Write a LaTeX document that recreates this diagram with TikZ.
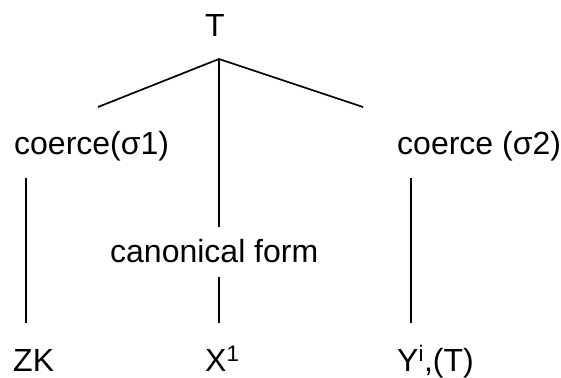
\documentclass[tikz,border=0pt]{standalone}
\usepackage{fontspec}
\setmainfont{Liberation Sans}
\usepackage{tikz}

\begin{document}
\begin{tikzpicture}[x=1pt, y=-1pt,
    lbl/.style={inner sep=0pt, font=\fontsize{32}{38}\selectfont},
    edge/.style={line width=1.7pt}]
    \useasboundingbox (0,0) rectangle (561,377);
    \node[lbl, anchor=base] (root) at (215,37) {T};
    \node[lbl, anchor=base west] (left) at (14,154) {coerce(σ1)};
    \node[lbl, anchor=base west] (right) at (397,154) {coerce (σ2)};
    \node[lbl, anchor=base west] (canon) at (110,262) {canonical form};
    \node[lbl, anchor=base west] (zk) at (13,371) {ZK};
    \node[lbl, anchor=base west] (x1) at (205,371) {X\textsuperscript{1}};
    \node[lbl, anchor=base west] (yi) at (397,371) {Y\textsuperscript{i},(T)};
    % branch ends
    \coordinate (apex) at (219,59);
    \coordinate (lend) at (98,107);
    \coordinate (rend) at (363,107);
    \coordinate (ctop) at (219,227);
    \coordinate (cbot) at (219,277);
    \coordinate (xtop) at (219,323);
    \coordinate (ltop) at (26,178);
    \coordinate (lbot) at (26,323);
    \coordinate (rtop) at (411,178);
    \coordinate (rbot) at (411,323);
    \draw[edge] (lend) -- (apex) -- (rend);
    \draw[edge] (apex) -- (ctop);
    \draw[edge] (cbot) -- (xtop);
    \draw[edge] (ltop) -- (lbot);
    \draw[edge] (rtop) -- (rbot);
\end{tikzpicture}
\end{document}
